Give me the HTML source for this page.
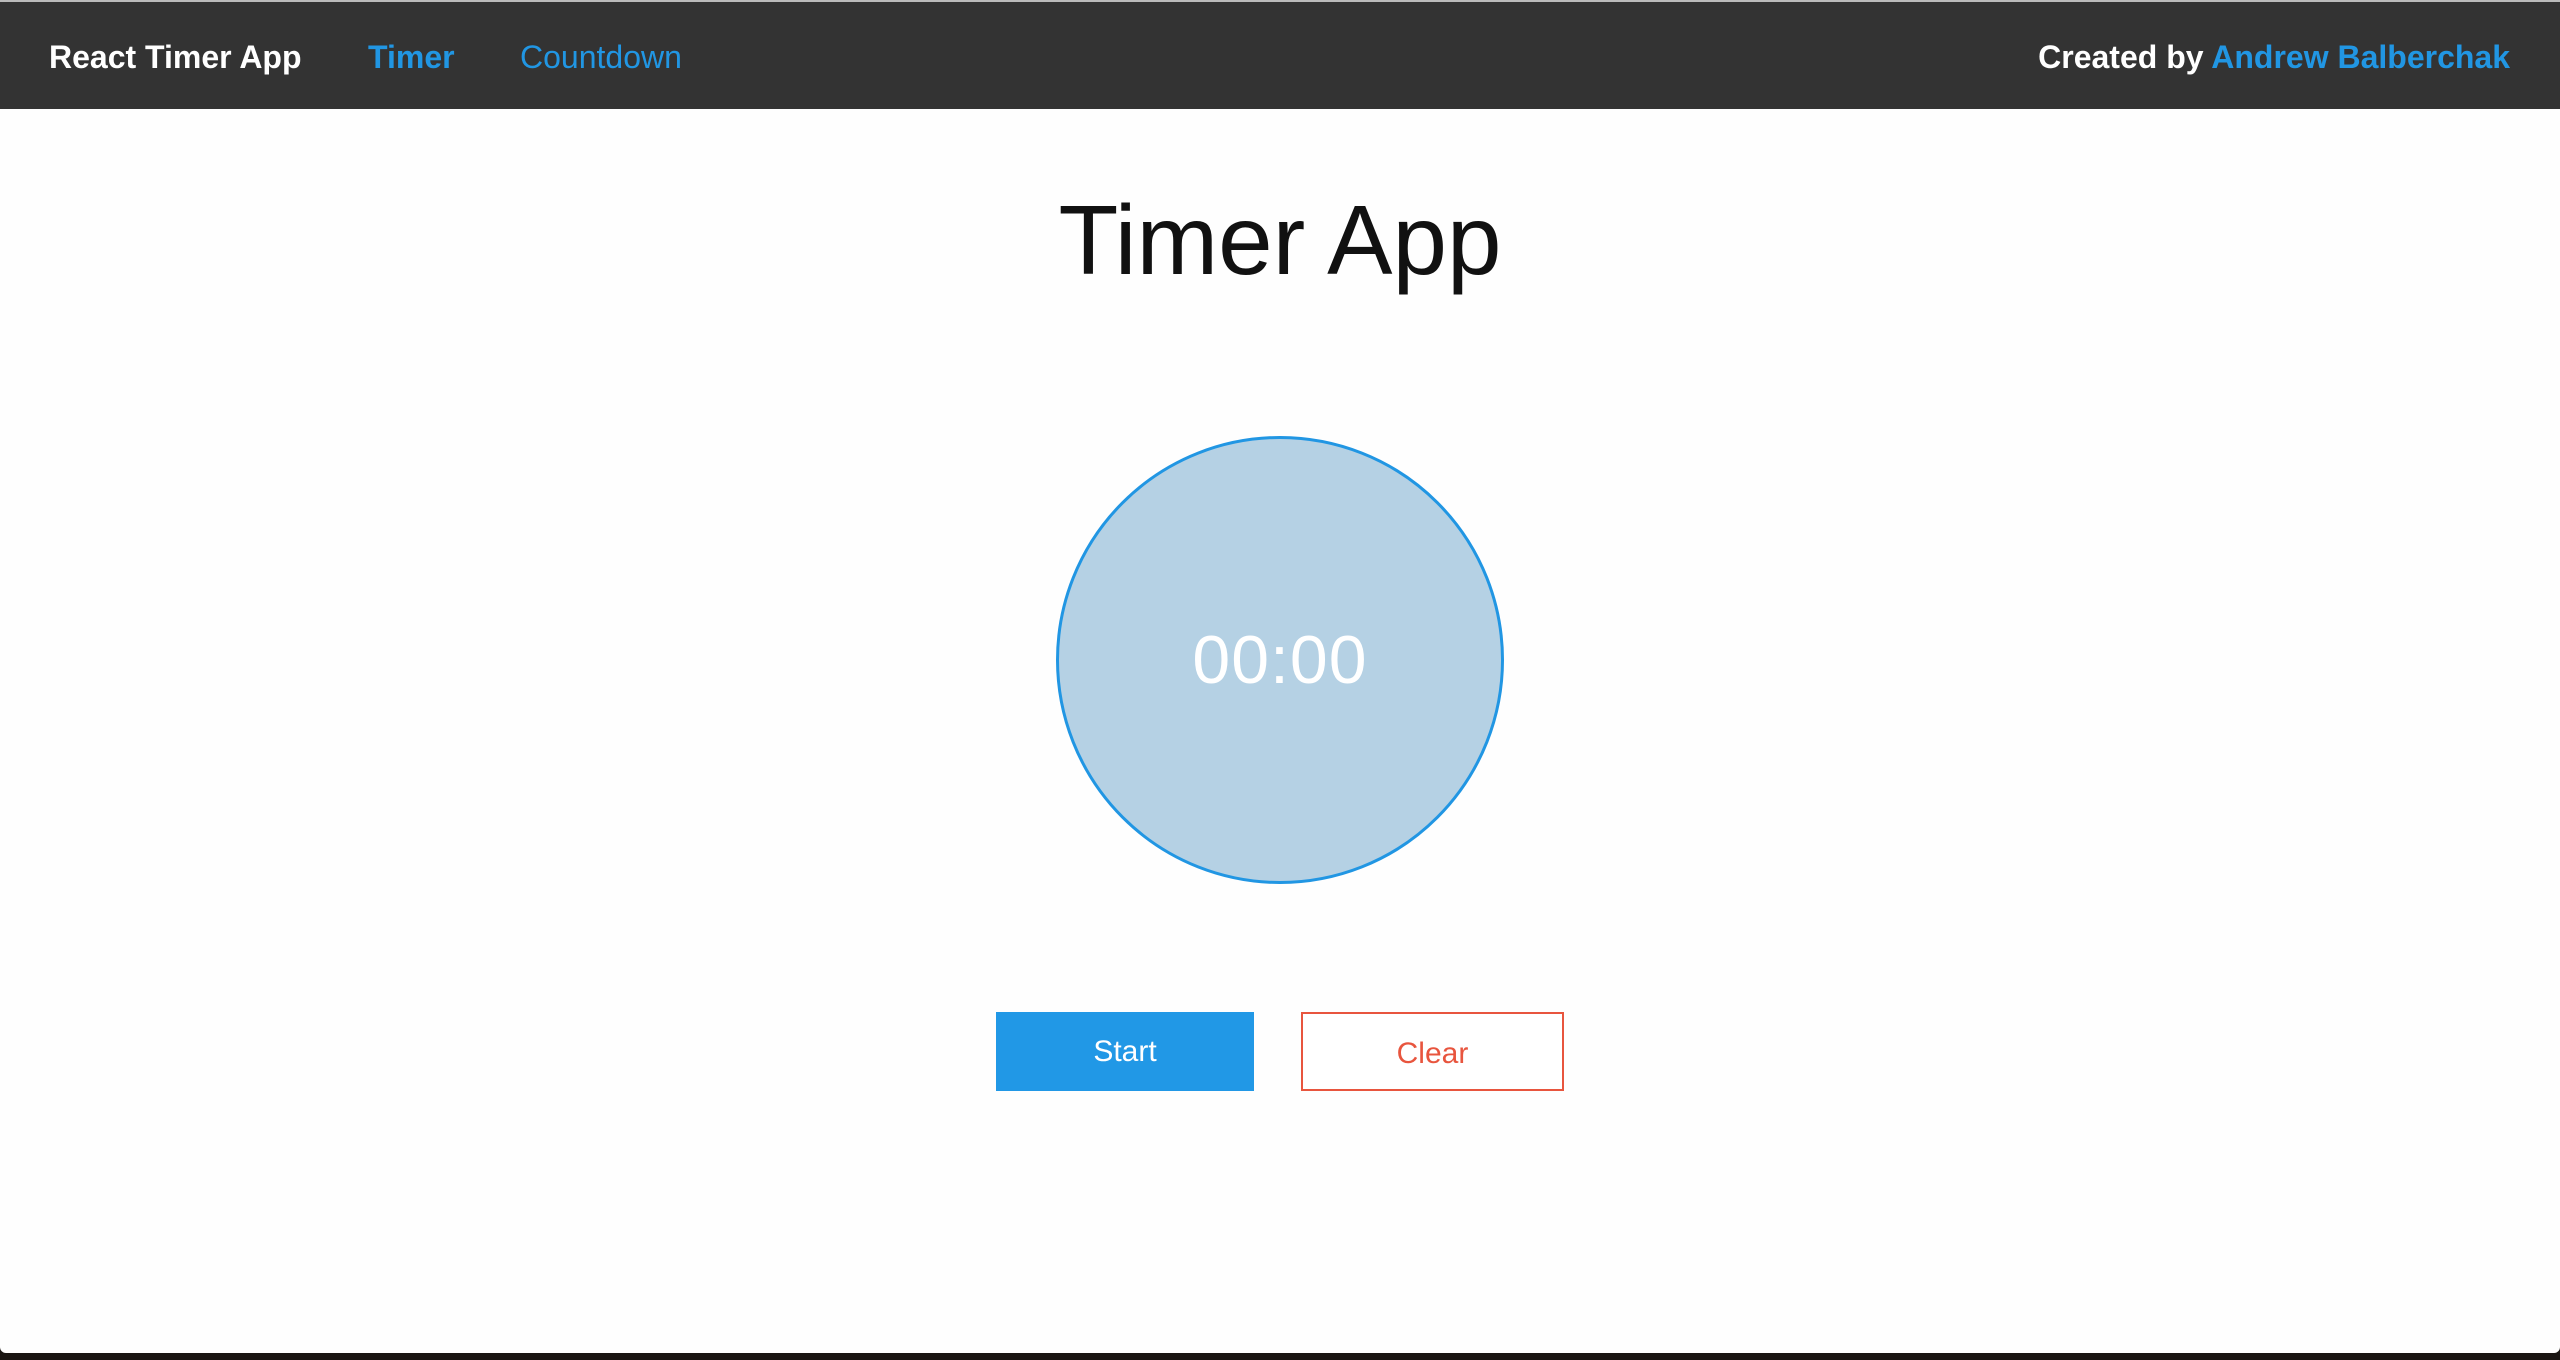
<!DOCTYPE html>
<html><head><style>
html,body{margin:0;padding:0;width:2560px;height:1360px;overflow:hidden;background:#1a1512;font-family:"Liberation Sans",Arial,sans-serif;}
#page{position:absolute;left:0;top:0;width:2560px;height:1353px;background:#fefefe;border-radius:0 0 6px 6px;overflow:hidden;}
#topline{position:absolute;left:0;top:0;width:2560px;height:2px;background:#bbb;}
nav{position:absolute;left:0;top:2px;width:2560px;height:107px;background:#333;}
.n{position:absolute;top:35px;font-size:32px;line-height:40px;white-space:nowrap;}
h1{position:absolute;left:0;width:2560px;top:175px;margin:0;text-align:center;font-weight:normal;font-size:98px;line-height:130px;color:#111;}
#circle{position:absolute;left:1056px;top:436px;width:442px;height:442px;border:3px solid #2196e3;border-radius:50%;background:#b5d1e4;color:#fff;font-size:68px;line-height:442px;text-align:center;font-weight:300;letter-spacing:1px;}
.btn{position:absolute;top:1012px;height:79px;line-height:79px;text-align:center;font-size:30px;box-sizing:border-box;}
</style></head><body>
<div id="page">
<div id="topline"></div>
<nav>
<div class="n" style="left:49px;color:#fff;font-weight:bold;">React Timer App</div>
<div class="n" style="left:368px;color:#2196e3;font-weight:bold;">Timer</div>
<div class="n" style="left:520px;color:#2196e3;">Countdown</div>
<div class="n" style="right:50px;color:#fff;font-weight:bold;">Created by <span style="color:#2196e3">Andrew Balberchak</span></div>
</nav>
<h1>Timer App</h1>
<div id="circle">00:00</div>
<div class="btn" style="left:996px;width:258px;background:#2198e6;color:#fff;">Start</div>
<div class="btn" style="left:1301px;width:263px;border:2px solid #e8553e;color:#e8553e;background:#fff;">Clear</div>
</div>
</body></html>
